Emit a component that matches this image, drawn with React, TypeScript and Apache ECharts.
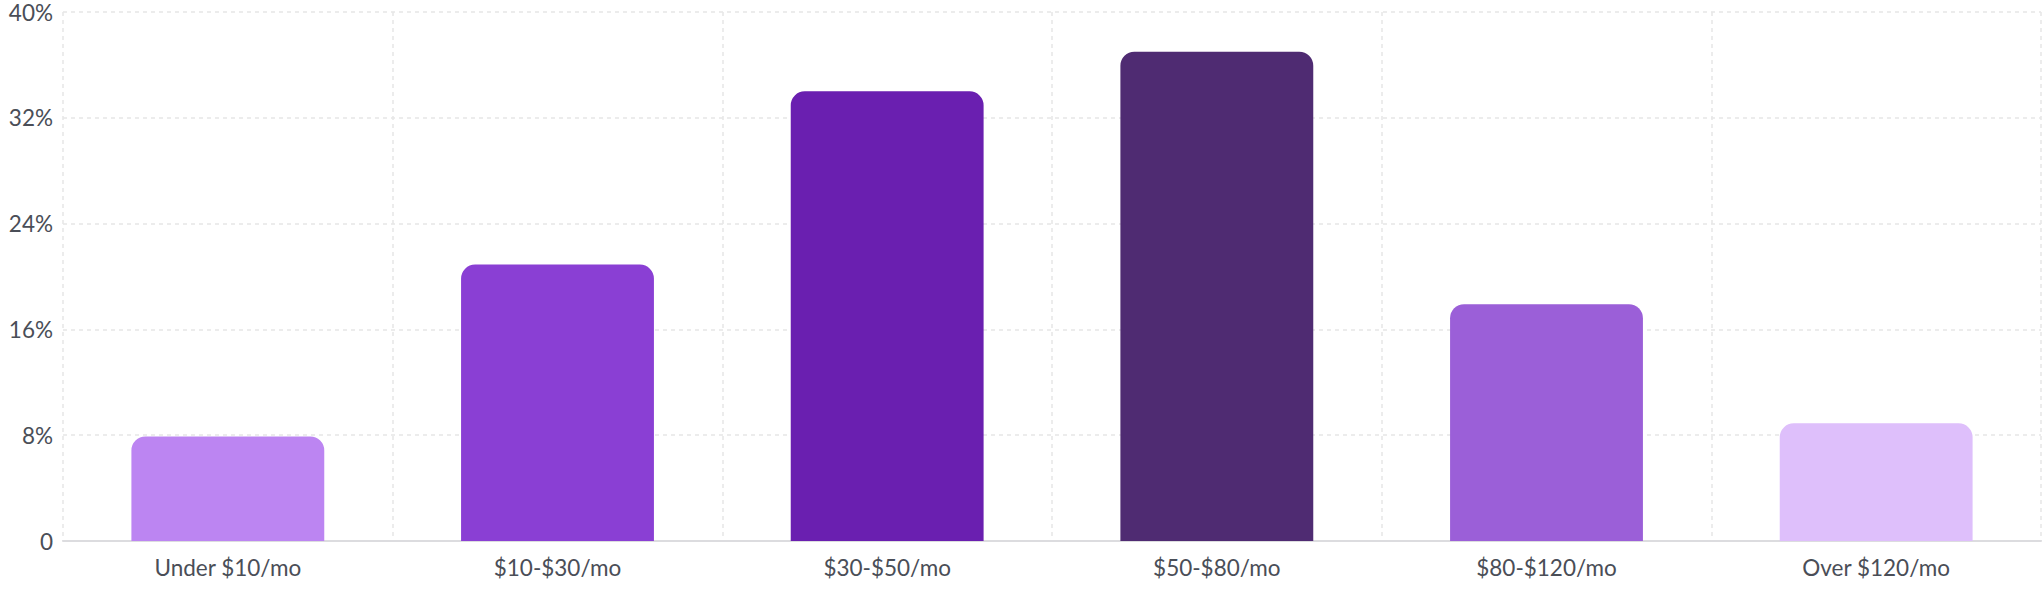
import React, { useEffect, useRef } from "react";
import * as echarts from "echarts";

const categories = [
  "Under $10/mo",
  "$10-$30/mo",
  "$30-$50/mo",
  "$50-$80/mo",
  "$80-$120/mo",
  "Over $120/mo",
];
const shares = [7.9, 20.9, 34.0, 37.0, 17.9, 8.9];
const barColors = ["#BC85F2", "#8A3FD4", "#6A1FB0", "#4F2B72", "#9B5FD8", "#DEBFFB"];
const yTicks = [0, 8, 16, 24, 32, 40];

const App: React.FC = () => {
  const chartRef = useRef<HTMLDivElement>(null);

  useEffect(() => {
    if (!chartRef.current) return;
    const chart = echarts.init(chartRef.current, undefined, { renderer: "svg" });

    const option: echarts.EChartsOption = {
      animation: false,
      grid: { left: 63, right: 3, top: 12, bottom: 61, containLabel: false },
      xAxis: {
        type: "category",
        data: categories,
        axisLine: { lineStyle: { color: "#dcdcdf", width: 2 } },
        axisTick: { show: false },
        axisLabel: {
          color: "#4a4e57",
          fontFamily: "Lato",
          fontSize: 22.5,
          margin: 15,
        },
        splitLine: {
          show: true,
          lineStyle: { color: "#e6e6e6", type: [4, 4], width: 1.5 },
        },
      },
      yAxis: {
        type: "value",
        min: yTicks[0],
        max: yTicks[yTicks.length - 1],
        interval: 8,
        axisLine: { show: false },
        axisTick: { show: false },
        axisLabel: {
          color: "#4a4e57",
          fontFamily: "Lato",
          fontSize: 22.5,
          margin: 10,
          formatter: (v: number) => (v === 0 ? "0" : `${v}%`),
        },
        splitLine: {
          lineStyle: { color: "#e6e6e6", type: [4, 4], width: 1.5 },
        },
      },
      series: [
        {
          type: "bar",
          barWidth: "58.5%",
          data: shares.map((v, i) => ({
            value: v,
            itemStyle: { color: barColors[i], borderRadius: [14, 14, 0, 0] },
          })),
        },
      ],
    };

    chart.setOption(option);
    const handleResize = () => chart.resize();
    window.addEventListener("resize", handleResize);
    return () => {
      window.removeEventListener("resize", handleResize);
      chart.dispose();
    };
  }, []);

  return (
    <div
      ref={chartRef}
      style={{ position: "fixed", left: 0, top: 0, width: "2044px", height: "602px", background: "#fff" }}
    />
  );
};

export default App;
